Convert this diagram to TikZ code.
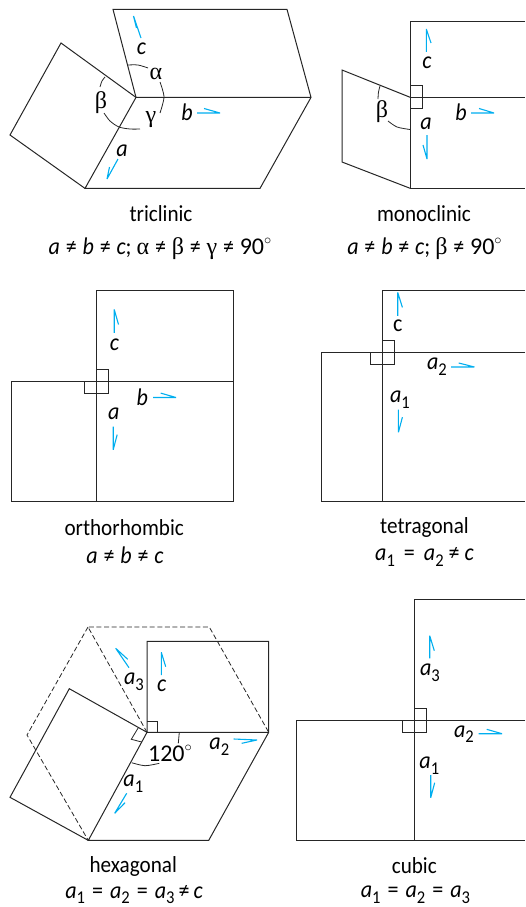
\documentclass[tikz,border=0pt]{standalone}
\usepackage{fontspec}
\setmainfont[FakeStretch=0.92]{Carlito}
\newfontfamily\grk{Liberation Serif}
\newfontfamily\plainfig{Carlito}
\definecolor{axisblue}{RGB}{0,174,239}
\tikzset{
  edge/.style={draw=black!85,line width=1pt,line join=miter},
  thin edge/.style={draw=black!85,line width=0.8pt},
  dash edge/.style={draw=black!85,line width=0.8pt,dash pattern=on 5pt off 2.6pt},
  harpoon/.style={draw=axisblue,line width=1.1pt,line join=bevel},
  lab/.style={inner sep=0pt,font=\fontsize{24}{26}\selectfont},
  captext/.style={inner sep=0pt,font=\fontsize{23}{26}\selectfont},
  formula/.style={inner sep=0pt,font=\fontsize{24}{26}\selectfont},
}
\newcommand{\grkl}[1]{{\grk #1}}
\newcommand{\nq}{\hspace{5.8pt}≠\hspace{5.8pt}}
\newcommand{\nqt}{\hspace{4pt}≠\hspace{4pt}}
\newcommand{\eqq}{\hspace{7pt}=\hspace{7pt}}
\newcommand{\subn}[1]{\raisebox{-0.24em}{\fontsize{18}{18}\selectfont #1}}
\newcommand{\degr}{\raisebox{0.42em}{\fontsize{15}{15}\selectfont$\circ$}}
\begin{document}
\begin{tikzpicture}[x=1pt,y=-1pt]
\useasboundingbox (0,0) rectangle (525,907);
% triclinic
\draw[edge] (136,97.4) -- (113,9.4) -- (287,9.4) -- (311,97.4) -- (260,188.4) -- (85,188.4) -- (136,97.4) -- (311,97.4);
\draw[edge] (136,97.4) -- (61,43) -- (10,135) -- (85,188.4);
\draw[thin edge] plot[smooth] coordinates {(128,65) (138,65) (148,68)};
\draw[thin edge] plot[smooth] coordinates {(160,82) (164,97) (160,113)};
\draw[thin edge] plot[smooth] coordinates {(104,113) (110,121) (119,127) (130,129) (140,129)};
\draw[thin edge] plot[smooth] coordinates {(105,77) (102,81) (100,87)};
\draw[harpoon] (141,38) -- (133.5,16) -- (136.5,28);
\draw[harpoon] (197,113) -- (220,113) -- (204,108.5);
\draw[harpoon] (118,159) -- (107,179) -- (109.5,167);
\node[lab] (tc) at (141.5,49) {\itshape c};
\node[lab] (tb) at (187,112) {\itshape b};
\node[lab] (ta) at (122,151) {\itshape a};
\node[lab] (talpha) at (156,74) {\grkl{α}};
\node[lab] (tbeta) at (101,103) {\grkl{β}};
\node[lab] (tgamma) at (151,120) {\grkl{γ}};
\node[captext] (tname) at (161,214) {triclinic};
\node[formula] (tform) at (160,249) {\textit{a}\nq\textit{b}\nq\textit{c}; \grkl{α}\nq\grkl{β}\nq\grkl{γ}\nq{\plainfig 90}\degr};
% monoclinic
\draw[edge] (525,21.4) -- (410.4,21.4) -- (410.4,188.4) -- (525,188.4);
\draw[edge] (410.4,97.4) -- (525,97.4);
\draw[edge] (410.4,97.4) -- (342,70) -- (342,162) -- (410.4,188.4);
\draw[thin edge] (410.4,85.5) -- (422,85.5) -- (422,108.5) -- (410.4,108.5);
\draw[thin edge] plot[smooth] coordinates {(380,86) (378.5,92) (378,99)};
\draw[thin edge] plot[smooth] coordinates {(388,121) (397,127) (410,129.5)};
\draw[harpoon] (426.3,52) -- (426.3,29) -- (431,43);
\draw[harpoon] (427,135) -- (427,159) -- (423,145);
\draw[harpoon] (471,113) -- (494,113) -- (479,108.5);
\node[lab] (mc) at (427,63) {\itshape c};
\node[lab] (ma) at (426,124) {\itshape a};
\node[lab] (mb) at (461,112) {\itshape b};
\node[lab] (mbeta) at (382,112) {\grkl{β}};
\node[captext] (mname) at (424,214) {monoclinic};
\node[formula] (mform) at (424.5,249) {\textit{a}\nq\textit{b}\nq\textit{c}; \grkl{β}\nq{\plainfig 90}\degr};
% orthorhombic
\draw[edge] (96.4,381.8) -- (96.4,290.7) -- (233.3,290.7) -- (233.3,501.6) -- (11.4,501.6) -- (11.4,381.8) -- (233.3,381.8);
\draw[edge] (96.4,381.8) -- (96.4,501.6);
\draw[thin edge] (84.7,381.8) -- (84.7,393.8) -- (108.8,393.8) -- (108.8,369.7) -- (96.4,369.7);
\draw[harpoon] (114.2,332.9) -- (114.2,309.4) -- (118.5,324.5);
\draw[harpoon] (113.2,426.6) -- (113.2,449.7) -- (117.2,434.6);
\draw[harpoon] (153,397.5) -- (176,397.5) -- (160.7,393.1);
\node[lab] (oc) at (114.5,344.6) {\itshape c};
\node[lab] (oa) at (113.8,413.9) {\itshape a};
\node[lab] (ob) at (142.3,397) {\itshape b};
\node[captext] (oname) at (124.2,527.7) {orthorhombic};
\node[formula] (oform) at (125,555.5) {\textit{a}\nq\textit{b}\nq\textit{c}};
% tetragonal
\draw[edge] (525,290.7) -- (382.4,290.7) -- (382.4,501.6);
\draw[edge] (525,352.3) -- (321.4,352.3) -- (321.4,501.6) -- (525,501.6);
\draw[thin edge] (370.3,352.3) -- (370.3,364.3) -- (394.4,364.3) -- (394.4,340.6) -- (382.4,340.6);
\draw[harpoon] (397.7,315.8) -- (397.7,292.4) -- (402.4,307.4);
\draw[harpoon] (398.4,409.5) -- (398.4,432.3) -- (402.4,417.2);
\draw[harpoon] (451,367) -- (474.4,367) -- (458.7,363);
\node[lab] (gc) at (397.7,326.2) {c};
\node[lab] (ga1) at (400,399.8) {\textit{a}\subn{1}};
\node[lab] (ga2) at (437,366.4) {\textit{a}\subn{2}};
\node[captext] (gname) at (424.5,527.7) {tetragonal};
\node[formula] (gform) at (424.5,557) {\textit{a}\subn{1}\hspace{9pt}=\hspace{9pt}\textit{a}\subn{2}\hspace{5pt}≠\hspace{5pt}\textit{c}};
% hexagonal
\draw[edge] (147,732.3) -- (147,641.3) -- (268.7,641.3) -- (268.7,732.3) -- (208.7,840.4) -- (88.3,840.4) -- (147,732.3) -- (268.7,732.3);
\draw[edge] (147,732.3) -- (69.3,688.7) -- (10,797.3) -- (88.3,840.4);
\draw[dash edge] (147,732.3) -- (88,627) -- (209.3,627) -- (268.7,732.3);
\draw[dash edge] (88,627) -- (27,735) -- (88.3,840.4);
\draw[thin edge] (147,721.7) -- (157.7,721.7) -- (157.7,732.3);
\draw[thin edge] (138.3,727.7) -- (131.3,739.3) -- (141.7,742);
\draw[thin edge] (179.3,732.3) -- (178.3,743.3);
\draw[thin edge] plot[smooth] coordinates {(131.7,762.7) (145,765.7) (159.3,763.3)};
\draw[harpoon] (129,667.7) -- (115.7,648.3) -- (127.7,659.3);
\draw[harpoon] (161.3,675) -- (161.3,652.3) -- (165.7,666.7);
\draw[harpoon] (233.7,739) -- (257,740) -- (241.7,743.3);
\draw[harpoon] (126.7,793.3) -- (114.7,813.3) -- (125,802.7);
\node[lab] (ha3) at (134,682) {\textit{a}\subn{3}};
\node[lab] (hc) at (161.7,686) {\itshape c};
\node[lab] (ha2) at (219.3,746.7) {\textit{a}\subn{2}};
\node[lab] (ha1) at (133.3,784) {\textit{a}\subn{1}};
\node[lab] (h120) at (170,753.3) {{\plainfig 120}\degr};
\node[captext] (hname) at (133.3,866.7) {hexagonal};
\node[formula] (hform) at (134,894.5) {\textit{a}\subn{1}\eqq\textit{a}\subn{2}\eqq\textit{a}\subn{3}\nqt\textit{c}};
% cubic
\draw[edge] (525,599.7) -- (414.3,599.7) -- (414.3,840.4);
\draw[edge] (525,720.3) -- (296.4,720.3) -- (296.4,840.4) -- (525,840.4);
\draw[thin edge] (402.7,720.3) -- (402.7,732) -- (426,732) -- (426,708.7) -- (414.3,708.7);
\draw[harpoon] (429.7,658.3) -- (429.7,635.7) -- (434.3,650.7);
\draw[harpoon] (430.7,775) -- (430.7,797.7) -- (434.7,782.7);
\draw[harpoon] (478.7,733.7) -- (502,733.7) -- (486.7,729.3);
\node[lab] (ca3) at (430,672.7) {\textit{a}\subn{3}};
\node[lab] (ca2) at (464,734.3) {\textit{a}\subn{2}};
\node[lab] (ca1) at (429.3,765.7) {\textit{a}\subn{1}};
\node[captext] (cname) at (414.3,866) {cubic};
\node[formula] (cform) at (415.5,894.5) {\textit{a}\subn{1}\eqq\textit{a}\subn{2}\eqq\textit{a}\subn{3}};
\end{tikzpicture}
\end{document}
